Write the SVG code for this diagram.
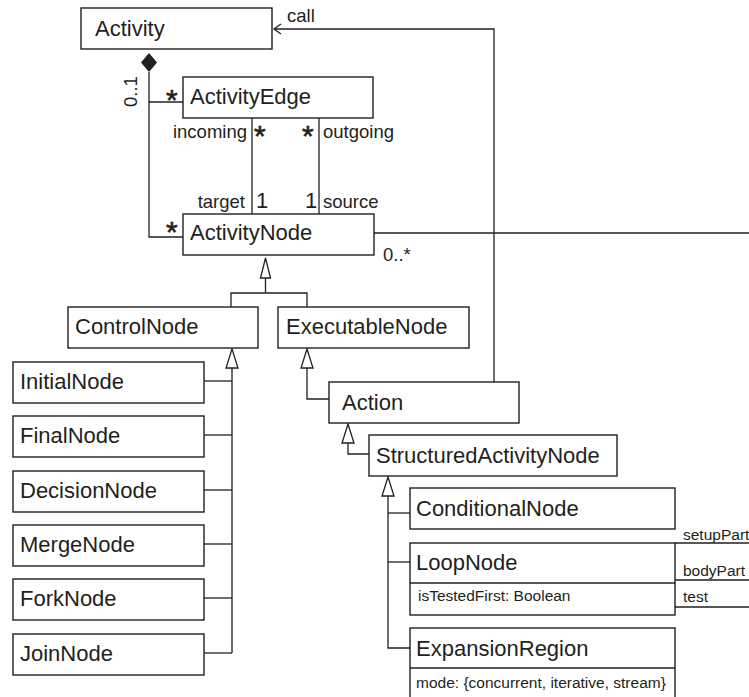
<svg xmlns="http://www.w3.org/2000/svg" width="749" height="697" viewBox="0 0 749 697">
<defs>
<style>
.box{fill:#fff;stroke:#231f20;stroke-width:1.4}
.ln{fill:none;stroke:#231f20;stroke-width:1.3}
.tri{fill:#fff;stroke:#231f20;stroke-width:1.3}
text{font-family:"Liberation Sans",Arial,sans-serif;fill:#231f20}
.nm{font-size:22px}
.lb{font-size:18.5px}
.at{font-size:15.5px}
.st{font-size:30px;stroke:#231f20;stroke-width:0.6}
</style>
</defs>
<rect width="749" height="697" fill="#fff"/>
<g id="connectors">
<polyline class="ln" points="494,382 494,29 274,29"/>
<path class="ln" d="M281,24 L274,29 L281,34" stroke-width="1.5"/>
<polygon points="149,53 157,62.5 149,72 141,62.5" fill="#231f20"/>
<polyline class="ln" points="149,72 149,237 183,237"/>
<line class="ln" x1="149" y1="102" x2="183" y2="102"/>
<line class="ln" x1="252" y1="118" x2="252" y2="214"/>
<line class="ln" x1="319" y1="118" x2="319" y2="214"/>
<line class="ln" x1="374" y1="233" x2="749" y2="233"/>
<polygon class="tri" points="265.5,258 270.5,278 260.5,278"/>
<polyline class="ln" points="265.5,278 265.5,293"/>
<polyline class="ln" points="231,307 231,293 307,293 307,307"/>
<polygon class="tri" points="232,349 238,368 226,368"/>
<polyline class="ln" points="232,368 232,653"/>
<line class="ln" x1="204" y1="381" x2="232" y2="381"/>
<line class="ln" x1="204" y1="435" x2="232" y2="435"/>
<line class="ln" x1="204" y1="490" x2="232" y2="490"/>
<line class="ln" x1="204" y1="544" x2="232" y2="544"/>
<line class="ln" x1="204" y1="598" x2="232" y2="598"/>
<line class="ln" x1="204" y1="653" x2="232" y2="653"/>
<polygon class="tri" points="307,349 313,368 301,368"/>
<polyline class="ln" points="307,368 307,399 329,399"/>
<polygon class="tri" points="348,424 354,443 342,443"/>
<polyline class="ln" points="348,443 348,454 369,454"/>
<polygon class="tri" points="388,477 394,496 382,496"/>
<polyline class="ln" points="388,496 388,648 410,648"/>
<line class="ln" x1="388" y1="513" x2="410" y2="513"/>
<line class="ln" x1="388" y1="562" x2="410" y2="562"/>
<line class="ln" x1="675" y1="543" x2="749" y2="543"/>
<line class="ln" x1="675" y1="580" x2="749" y2="580"/>
<line class="ln" x1="675" y1="607" x2="749" y2="607"/>
<text class="lb" x="287" y="22" font-size="17">call</text>
<text class="lb" transform="translate(137,107) rotate(-90)">0..1</text>
<text class="st" x="166" y="110">*</text>
<text class="st" x="166" y="242">*</text>
<text class="lb" x="247" y="138" text-anchor="end">incoming</text>
<text class="st" x="254" y="146">*</text>
<text class="st" x="302" y="146">*</text>
<text class="lb" x="323" y="138">outgoing</text>
<text class="lb" x="245" y="208" text-anchor="end">target</text>
<text class="nm" x="256" y="208">1</text>
<text class="nm" x="305" y="208">1</text>
<text class="lb" x="323" y="208">source</text>
<text class="lb" x="383" y="261">0..*</text>
<text class="at" x="683" y="540">setupPart</text>
<text class="at" x="683" y="576">bodyPart</text>
<text class="at" x="683" y="602">test</text>
</g>
<g id="Activity"><rect class="box" x="81" y="8" width="191" height="41"/><text class="nm" x="95" y="36">Activity</text></g>
<g id="ActivityEdge"><rect class="box" x="183" y="77" width="190" height="41"/><text class="nm" x="190" y="104">ActivityEdge</text></g>
<g id="ActivityNode"><rect class="box" x="183" y="214" width="191" height="41"/><text class="nm" x="190" y="240">ActivityNode</text></g>
<g id="ControlNode"><rect class="box" x="68" y="307" width="190" height="41"/><text class="nm" x="75" y="334">ControlNode</text></g>
<g id="ExecutableNode"><rect class="box" x="278" y="307" width="191" height="41"/><text class="nm" x="286" y="334">ExecutableNode</text></g>
<g id="InitialNode"><rect class="box" x="13" y="362" width="191" height="41"/><text class="nm" x="20" y="389">InitialNode</text></g>
<g id="FinalNode"><rect class="box" x="13" y="416" width="191" height="41"/><text class="nm" x="20" y="443">FinalNode</text></g>
<g id="DecisionNode"><rect class="box" x="13" y="471" width="191" height="41"/><text class="nm" x="20" y="498">DecisionNode</text></g>
<g id="MergeNode"><rect class="box" x="13" y="525" width="191" height="41"/><text class="nm" x="20" y="552">MergeNode</text></g>
<g id="ForkNode"><rect class="box" x="13" y="579" width="191" height="41"/><text class="nm" x="20" y="606">ForkNode</text></g>
<g id="JoinNode"><rect class="box" x="13" y="634" width="191" height="41"/><text class="nm" x="20" y="661">JoinNode</text></g>
<g id="Action"><rect class="box" x="329" y="382" width="190" height="41"/><text class="nm" x="342" y="410">Action</text></g>
<g id="StructuredActivityNode"><rect class="box" x="369" y="435" width="248" height="41"/><text class="nm" x="376" y="463">StructuredActivityNode</text></g>
<g id="ConditionalNode"><rect class="box" x="410" y="488" width="265" height="41"/><text class="nm" x="416" y="516">ConditionalNode</text></g>
<g id="LoopNode"><rect class="box" x="410" y="543" width="265" height="72"/><line class="ln" x1="410" y1="583" x2="675" y2="583"/><text class="nm" x="416" y="570">LoopNode</text><text class="at" x="418" y="601">isTestedFirst: Boolean</text></g>
<g id="ExpansionRegion"><rect class="box" x="410" y="628" width="265" height="75"/><line class="ln" x1="410" y1="668" x2="675" y2="668"/><text class="nm" x="416" y="656">ExpansionRegion</text><text class="at" x="416" y="688">mode: {concurrent, iterative, stream}</text></g>
</svg>
